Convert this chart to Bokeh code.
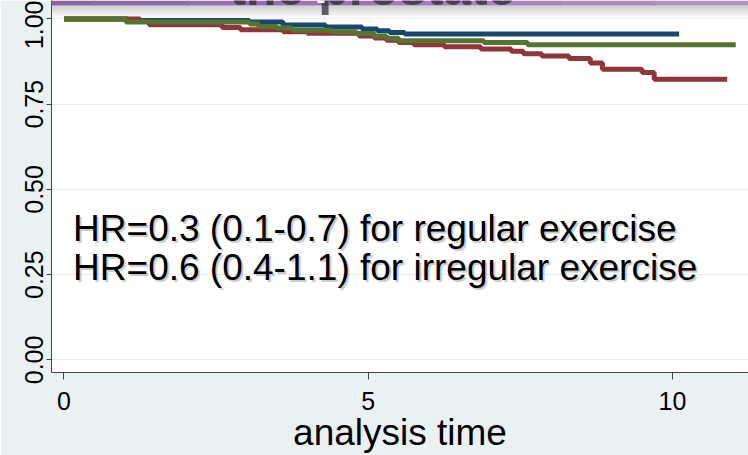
from bokeh.plotting import figure
from bokeh.models import FixedTicker, PrintfTickFormatter, BoxAnnotation, Label
from bokeh.embed import file_html
from bokeh.resources import INLINE

# ---- data ----
blue_t = [0, 1.05, 3.05, 3.6, 4.3, 4.9, 5.15, 5.35, 5.6, 10.11]
blue_s = [1.0, 0.995, 0.991, 0.982, 0.976, 0.970, 0.965, 0.960, 0.956, 0.956]

red_t = [0, 1.25, 1.4, 2.6, 2.9, 3.6, 4.0, 4.85, 5.1, 5.3, 5.5, 5.75, 6.25,
         6.85, 7.35, 7.55, 7.85, 8.3, 8.65, 8.85, 9.5, 9.7, 10.9]
red_s = [1.0, 0.992, 0.983, 0.975, 0.968, 0.962, 0.958, 0.950, 0.944, 0.937,
         0.931, 0.924, 0.918, 0.912, 0.905, 0.898, 0.891, 0.884, 0.871, 0.852,
         0.843, 0.823, 0.823]

green_t = [0, 1.02, 3.05, 3.2, 3.5, 3.75, 4.4, 4.8, 5.1, 5.3, 5.5, 6.9, 7.62, 11.04]
green_s = [1.0, 0.991, 0.985, 0.978, 0.973, 0.967, 0.962, 0.957, 0.950, 0.943,
           0.936, 0.931, 0.924, 0.924]

x_ticks = [0, 5, 10]
y_ticks = [0, 0.25, 0.5, 0.75, 1.0]
hr_lines = ["HR=0.3 (0.1-0.7) for regular exercise",
            "HR=0.6 (0.4-1.1) for irregular exercise"]
x_label = "analysis time"
title_text = "the prostate"

FONT = "Liberation Sans"
BG = "#eaf1f3"
purples = ["#8c63a6", "#9169aa", "#976fae", "#9c76b3", "#a27db8", "#a884bc",
           "#ad8bc1", "#b392c5"]

p = figure(width=748, height=455, output_backend="svg", toolbar_location=None,
           x_range=(-0.205, 11.25), y_range=(-0.0369, 1.0539),
           min_border_left=51, min_border_right=0, min_border_top=0,
           min_border_bottom=76)
p.border_fill_color = BG
p.background_fill_color = "white"
p.outline_line_color = None

p.xgrid.visible = False
p.ygrid.grid_line_color = "#e6eef0"
p.ygrid.ticker = FixedTicker(ticks=y_ticks)

p.xaxis.ticker = FixedTicker(ticks=x_ticks)
p.yaxis.ticker = FixedTicker(ticks=y_ticks)
p.yaxis.formatter = PrintfTickFormatter(format="%.2f")
p.yaxis.major_label_orientation = "vertical"
for ax in (p.xaxis, p.yaxis):
    ax.axis_line_color = "#444444"
    ax.major_tick_line_color = "#444444"
    ax.minor_tick_line_color = None
    ax.major_tick_in = 0
    ax.major_label_text_font = FONT
    ax.major_label_text_font_size = "25px"
    ax.major_label_text_color = "black"
p.xaxis.major_tick_out = 7
p.yaxis.major_tick_out = 5
p.xaxis.major_label_standoff = 12
p.yaxis.major_label_standoff = 3
p.xaxis.axis_label = x_label
p.xaxis.axis_label_text_font = FONT
p.xaxis.axis_label_text_font_size = "37px"
p.xaxis.axis_label_text_font_style = "normal"
p.xaxis.axis_label_text_color = "black"
p.xaxis.axis_label_text_line_height = 0.6
p.xaxis.axis_label_standoff = -1

# curves
p.step(blue_t, blue_s, mode="after", line_color="#1a476f", line_width=5)
p.step(red_t, red_s, mode="after", line_color="#90353b", line_width=5)
p.step(green_t, green_s, mode="after", line_color="#55752f", line_width=5)

# HR annotation with soft shadow
for i, line in enumerate(hr_lines):
    yb = [0.384, 0.270][i]
    p.add_layout(Label(x=0.15, y=yb, text=line, x_offset=2, y_offset=-2,
                       text_font=FONT, text_font_size="37px",
                       text_color="#9a9a9a", text_alpha=0.5,
                       text_baseline="alphabetic"))
    p.add_layout(Label(x=0.15, y=yb, text=line,
                       text_font=FONT, text_font_size="37px",
                       text_color="black", text_baseline="alphabetic"))

# banner at the very top and grey fade below it (decoration)
seg = 748 / len(purples)
for i, c in enumerate(purples):
    p.add_layout(BoxAnnotation(left=i * seg, right=(i + 1) * seg + 1, top=0, bottom=5,
                               left_units="canvas", right_units="canvas",
                               top_units="canvas", bottom_units="canvas",
                               fill_color=c, fill_alpha=1, line_color=None))
for k in range(12):
    a = 0.45 * (1 - k / 12)
    p.add_layout(BoxAnnotation(top=5 + k, bottom=6 + k,
                               top_units="canvas", bottom_units="canvas",
                               fill_color="#8a8a8a", fill_alpha=a, line_color=None))

# cut-off slide title peeking below the banner
p.add_layout(Label(x=5.07, y=1.092, text=title_text, text_align="center",
                   text_font=FONT, text_font_size="50px", text_font_style="bold",
                   text_color="#2a1f33", text_alpha=0.7, text_baseline="alphabetic"))
p.add_layout(Label(x=5.0, y=1.126, text=title_text, text_align="center",
                   text_font=FONT, text_font_size="50px", text_font_style="bold",
                   text_color="white", text_baseline="alphabetic"))

open("out.html", "w").write(file_html(p, INLINE))
